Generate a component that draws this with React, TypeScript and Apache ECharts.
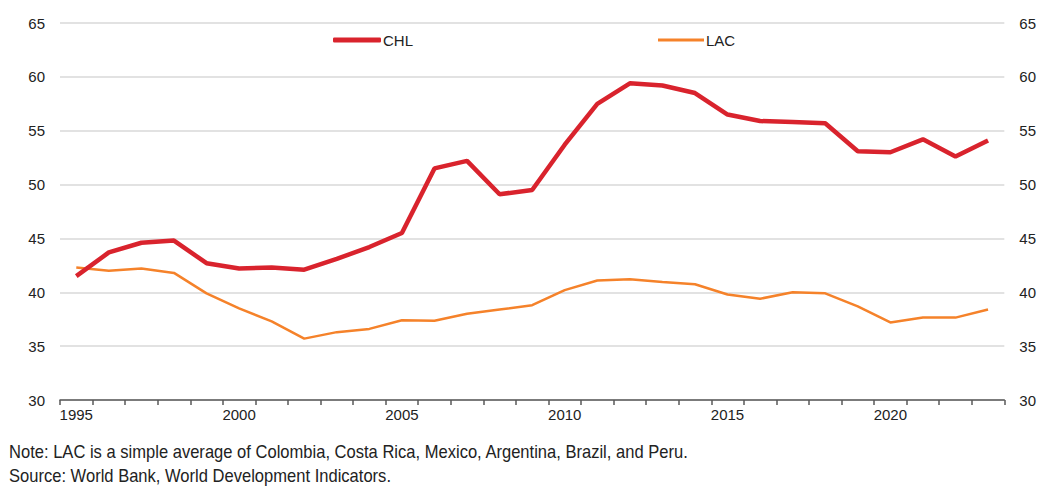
import React, { useEffect, useRef } from "react";
import * as echarts from "echarts";

const years = [
  "1995", "1996", "1997", "1998", "1999", "2000", "2001", "2002", "2003", "2004",
  "2005", "2006", "2007", "2008", "2009", "2010", "2011", "2012", "2013", "2014",
  "2015", "2016", "2017", "2018", "2019", "2020", "2021", "2022", "2023",
];

const chl = [
  41.5, 43.7, 44.6, 44.8, 42.7, 42.2, 42.3, 42.1, 43.1, 44.2,
  45.5, 51.5, 52.2, 49.1, 49.5, 53.7, 57.5, 59.4, 59.2, 58.5,
  56.5, 55.9, 55.8, 55.7, 53.1, 53.0, 54.2, 52.6, 54.1,
];

const lac = [
  42.3, 42.0, 42.2, 41.8, 39.9, 38.5, 37.3, 35.7, 36.3, 36.6,
  37.4, 37.35, 38.0, 38.4, 38.8, 40.2, 41.1, 41.2, 40.95, 40.75,
  39.8, 39.4, 40.0, 39.9, 38.7, 37.2, 37.65, 37.65, 38.4,
];

const noteLines = [
  "Note: LAC is a simple average of Colombia, Costa Rica, Mexico, Argentina, Brazil, and Peru.",
  "Source: World Bank, World Development Indicators.",
];

const FONT = "'Liberation Sans', Arial, sans-serif";
const TEXT = "#222222";

export default function App() {
  const ref = useRef<HTMLDivElement>(null);

  useEffect(() => {
    if (!ref.current) return;
    const chart = echarts.init(ref.current, null, { renderer: "svg" });
    const yAxisBase = {
      type: "value",
      min: 30,
      max: 65,
      interval: 5,
      axisLine: { show: false },
      axisTick: { show: false },
      axisLabel: { color: TEXT, fontSize: 15, fontFamily: FONT, margin: 15 },
    };
    const legendText = { color: TEXT, fontSize: 15, fontFamily: FONT, padding: [0, 0, 0, -3] };
    chart.setOption({
      animation: false,
      backgroundColor: "#ffffff",
      textStyle: { fontFamily: FONT },
      grid: { left: 60, right: 34, top: 23, bottom: 86, containLabel: false },
      legend: [
        {
          data: [{ name: "CHL", icon: "roundRect" }],
          left: 333,
          top: 32.5,
          padding: 0,
          itemWidth: 48,
          itemHeight: 5,
          textStyle: legendText,
        },
        {
          data: [{ name: "LAC", icon: "rect" }],
          left: 658,
          top: 32.5,
          padding: 0,
          itemWidth: 46,
          itemHeight: 3,
          textStyle: legendText,
        },
      ],
      xAxis: {
        type: "category",
        data: years,
        boundaryGap: true,
        axisLine: { show: true, lineStyle: { color: "#595959", width: 1.5 } },
        axisTick: { show: true, interval: 0, length: 5, lineStyle: { color: "#595959", width: 1.5 } },
        axisLabel: { interval: 4, color: TEXT, fontSize: 15, fontFamily: FONT, margin: 7 },
        splitLine: { show: false },
      },
      yAxis: [
        {
          ...yAxisBase,
          position: "left",
          splitLine: { show: true, lineStyle: { color: "#d9d9d9", width: 1.5 } },
        },
        {
          ...yAxisBase,
          position: "right",
          splitLine: { show: false },
        },
      ],
      series: [
        {
          name: "CHL",
          type: "line",
          data: chl,
          yAxisIndex: 0,
          symbol: "none",
          lineStyle: { color: "#D9232D", width: 4.5 },
          itemStyle: { color: "#D9232D" },
          z: 3,
        },
        {
          name: "LAC",
          type: "line",
          data: lac,
          yAxisIndex: 0,
          symbol: "none",
          lineStyle: { color: "#F5822A", width: 2.5 },
          itemStyle: { color: "#F5822A" },
          z: 2,
        },
      ],
      graphic: noteLines.map((t, i) => ({
        type: "text",
        x: 9,
        y: 452 + i * 24,
        scaleX: 0.92,
        style: {
          text: t,
          fill: TEXT,
          fontSize: 18,
          fontFamily: FONT,
          verticalAlign: "middle",
          align: "left",
        },
      })),
    });
    return () => chart.dispose();
  }, []);

  return (
    <div
      ref={ref}
      style={{ position: "absolute", left: 0, top: 0, width: 1039, height: 486 }}
    />
  );
}
